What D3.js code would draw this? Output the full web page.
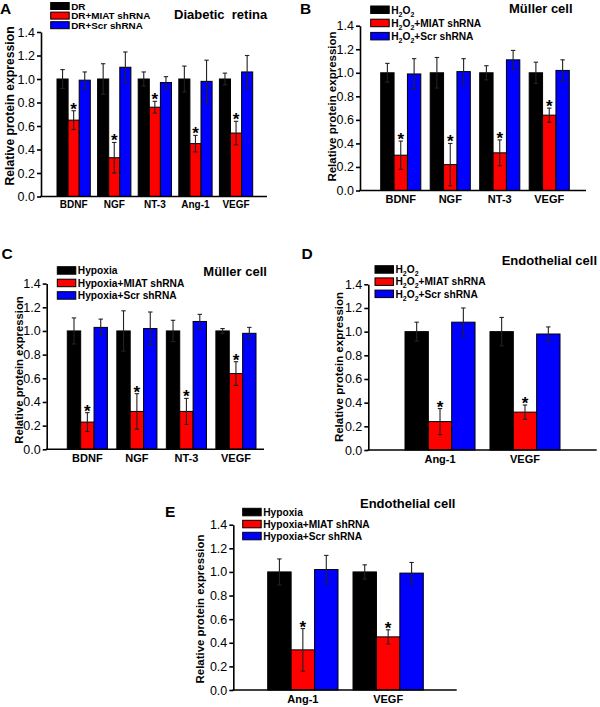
<!DOCTYPE html>
<html>
<head>
<meta charset="utf-8">
<script src="https://cdn.jsdelivr.net/npm/d3@7"></script>
<style>
  html, body { margin: 0; padding: 0; background: #fff; }
  svg { display: block; }
  text { font-family: Arial, "Liberation Sans", sans-serif; }
</style>
</head>
<body>
<svg id="chart" width="600" height="707"></svg>
<script>
// ---------- DATA ----------
const yTickValues = [0, 0.2, 0.4, 0.6, 0.8, 1.0, 1.2, 1.4];
const seriesColors = ["#000000", "#ff0000", "#0000ff"];

// Panel A: Diabetic retina
const titleA = "Diabetic  retina";
const legendA = ["DR", "DR+MIAT shRNA", "DR+Scr shRNA"];
const catsA = ["BDNF", "NGF", "NT-3", "Ang-1", "VEGF"];
const ctrlA = [1.00, 1.00, 1.00, 1.00, 1.00];
const ctrlErrA = [0.08, 0.13, 0.06, 0.11, 0.05];
const miatA = [0.65, 0.33, 0.76, 0.45, 0.54];
const miatErrA = [0.08, 0.13, 0.05, 0.07, 0.10];
const scrA = [0.99, 1.10, 0.97, 0.98, 1.06];
const scrErrA = [0.07, 0.13, 0.05, 0.18, 0.14];

// Panel B: Muller cell, H2O2
const titleB = "Müller cell";
const legendB = ["H2O2", "H2O2+MIAT shRNA", "H2O2+Scr shRNA"];
const catsB = ["BDNF", "NGF", "NT-3", "VEGF"];
const ctrlB = [1.00, 1.00, 1.00, 1.00];
const ctrlErrB = [0.08, 0.13, 0.06, 0.09];
const miatB = [0.30, 0.22, 0.32, 0.64];
const miatErrB = [0.12, 0.18, 0.11, 0.06];
const scrB = [0.99, 1.01, 1.11, 1.02];
const scrErrB = [0.13, 0.11, 0.08, 0.09];

// Panel C: Muller cell, Hypoxia
const titleC = "Müller cell";
const legendC = ["Hypoxia", "Hypoxia+MIAT shRNA", "Hypoxia+Scr shRNA"];
const catsC = ["BDNF", "NGF", "NT-3", "VEGF"];
const ctrlC = [1.00, 1.00, 1.00, 1.00];
const ctrlErrC = [0.11, 0.17, 0.09, 0.02];
const miatC = [0.23, 0.32, 0.32, 0.64];
const miatErrC = [0.08, 0.15, 0.11, 0.10];
const scrC = [1.03, 1.02, 1.08, 0.98];
const scrErrC = [0.07, 0.14, 0.06, 0.05];

// Panel D: Endothelial cell, H2O2
const titleD = "Endothelial cell";
const legendD = ["H2O2", "H2O2+MIAT shRNA", "H2O2+Scr shRNA"];
const catsD = ["Ang-1", "VEGF"];
const ctrlD = [1.00, 1.00];
const ctrlErrD = [0.08, 0.12];
const miatD = [0.24, 0.32];
const miatErrD = [0.11, 0.06];
const scrD = [1.08, 0.98];
const scrErrD = [0.12, 0.06];

// Panel E: Endothelial cell, Hypoxia
const titleE = "Endothelial cell";
const legendE = ["Hypoxia", "Hypoxia+MIAT shRNA", "Hypoxia+Scr shRNA"];
const catsE = ["Ang-1", "VEGF"];
const ctrlE = [1.00, 1.00];
const ctrlErrE = [0.11, 0.06];
const miatE = [0.34, 0.45];
const miatErrE = [0.18, 0.06];
const scrE = [1.02, 0.99];
const scrErrE = [0.12, 0.09];

// ---------- LAYOUT ----------
const panels = [
  { id: "A", title: titleA, legend: legendA, cats: catsA,
    vals: [ctrlA, miatA, scrA], errs: [ctrlErrA, miatErrA, scrErrA],
    labelPos: [0, 13.5], titlePos: [174, 19], axisX: 41, y0: 196.5, yTop: 32, xEnd: 267,
    group: [57, 252.7], pad: 0.18, legendPos: [50.7, 2.5], legendStep: 9.6, legendFont: 9.9, swH: 7,
    yLabel: [10, 106], yLabelSize: 12.2, catSize: 10, catDy: 12 },
  { id: "B", title: titleB, legend: legendB, cats: catsB,
    vals: [ctrlB, miatB, scrB], errs: [ctrlErrB, miatErrB, scrErrB],
    labelPos: [300, 14], titlePos: [509, 13], axisX: 360, y0: 190.5, yTop: 25.7, xEnd: 586,
    group: [380.7, 569.3], pad: 0.19, legendPos: [370.7, 6], legendStep: 13.2, legendFont: 10.2, swH: 7.5,
    yLabel: [332, 106.5], yLabelSize: 11.5, catSize: 11, catDy: 13 },
  { id: "C", title: titleC, legend: legendC, cats: catsC,
    vals: [ctrlC, miatC, scrC], errs: [ctrlErrC, miatErrC, scrErrC],
    labelPos: [1.5, 259.3], titlePos: [203.3, 276.4], axisX: 46.7, y0: 449.3, yTop: 283.6, xEnd: 264,
    group: [67.3, 256], pad: 0.19, legendPos: [57.3, 266.7], legendStep: 12.5, legendFont: 10.2, swH: 7.5,
    yLabel: [18.5, 370], yLabelSize: 11.3, catSize: 11, catDy: 13 },
  { id: "D", title: titleD, legend: legendD, cats: catsD,
    vals: [ctrlD, miatD, scrD], errs: [ctrlErrD, miatErrD, scrErrD],
    labelPos: [301.5, 259.3], titlePos: [501.7, 265.4], axisX: 368.3, y0: 450, yTop: 284.3, xEnd: 596.7,
    group: [405, 560], pad: 0.176, legendPos: [375, 265.7], legendStep: 12.2, legendFont: 10.2, swH: 7.5,
    yLabel: [338.5, 367], yLabelSize: 11.5, catSize: 11, catDy: 13 },
  { id: "E", title: titleE, legend: legendE, cats: catsE,
    vals: [ctrlE, miatE, scrE], errs: [ctrlErrE, miatErrE, scrErrE],
    labelPos: [165, 516.7], titlePos: [360, 508], axisX: 233.3, y0: 690, yTop: 524.7, xEnd: 456.7,
    group: [267.7, 423.3], pad: 0.176, legendPos: [242.7, 508.3], legendStep: 12, legendFont: 10.2, swH: 7.5,
    yLabel: [200, 609], yLabelSize: 11.4, catSize: 11, catDy: 13 }
];

const svg = d3.select("#chart");

function richText(sel, str) {
  // render "H2O2" with subscript 2s
  if (str.startsWith("H2O2")) {
    const rest = str.slice(4);
    sel.append("tspan").text("H");
    sel.append("tspan").text("2").attr("font-size", "7px").attr("dy", 3);
    sel.append("tspan").text("O").attr("dy", -3);
    sel.append("tspan").text("2").attr("font-size", "7px").attr("dy", 3);
    if (rest.length) sel.append("tspan").text(rest).attr("dy", -3);
  } else {
    sel.text(str);
  }
}

panels.forEach(p => {
  const g = svg.append("g");
  const y = d3.scaleLinear().domain([0, 1.4]).range([p.y0, p.yTop]);
  const x0 = d3.scaleBand().domain(p.cats).range(p.group).paddingInner(p.pad).paddingOuter(0);
  const x1 = d3.scaleBand().domain([0, 1, 2]).range([0, x0.bandwidth()]);

  // bars
  p.cats.forEach((c, ci) => {
    [0, 1, 2].forEach(si => {
      const v = p.vals[si][ci];
      const e = p.errs[si][ci];
      const bx = x0(c) + x1(si);
      const bw = x1.bandwidth();
      g.append("rect")
        .attr("x", bx).attr("y", y(v))
        .attr("width", bw).attr("height", y(0) - y(v))
        .attr("fill", seriesColors[si])
        .attr("stroke", "#000").attr("stroke-width", 1);
      const cx = bx + bw / 2;
      const capW = 2.2;
      const eb = g.append("g").attr("stroke", "#222").attr("stroke-width", 1.1);
      eb.append("line").attr("x1", cx).attr("x2", cx).attr("y1", y(v + e)).attr("y2", y(v - e));
      eb.append("line").attr("x1", cx - capW).attr("x2", cx + capW).attr("y1", y(v + e)).attr("y2", y(v + e));
      eb.append("line").attr("x1", cx - capW).attr("x2", cx + capW).attr("y1", y(v - e)).attr("y2", y(v - e));
      if (si === 1) {
        g.append("text")
          .attr("x", cx).attr("y", y(v + e) + 4)
          .attr("text-anchor", "middle")
          .attr("font-size", "17px").attr("font-weight", "bold")
          .text("*");
      }
    });
  });

  // y axis
  const yAxis = d3.axisLeft(y).tickValues(yTickValues).tickFormat(d3.format(".1f"))
    .tickSize(4).tickSizeOuter(0).tickPadding(2);
  const ya = g.append("g").attr("transform", `translate(${p.axisX},0)`).call(yAxis);
  ya.selectAll("path, line").attr("stroke", "#000").attr("stroke-width", 1.6);
  ya.selectAll("text").attr("font-size", "12.5px").attr("fill", "#000")
    .attr("font-family", "Arial, 'Liberation Sans', sans-serif");

  // x axis line
  g.append("line").attr("x1", p.axisX - 0.8).attr("x2", p.xEnd)
    .attr("y1", y(0)).attr("y2", y(0))
    .attr("stroke", "#000").attr("stroke-width", 1.6);

  // category labels
  const xAxis = d3.axisBottom(x0).tickSize(0).tickPadding(p.catDy - 8);
  const xa = g.append("g").attr("transform", `translate(0,${y(0)})`).call(xAxis);
  xa.select(".domain").remove();
  xa.selectAll("text").attr("font-size", p.catSize + "px").attr("font-weight", "bold")
    .attr("fill", "#000").attr("font-family", "Arial, 'Liberation Sans', sans-serif");

  // y label
  g.append("text")
    .attr("transform", `translate(${p.yLabel[0]},${p.yLabel[1]}) rotate(-90)`)
    .attr("text-anchor", "middle").attr("dominant-baseline", "central")
    .attr("font-size", p.yLabelSize + "px").attr("font-weight", "bold")
    .text("Relative protein expression");

  // legend
  p.legend.forEach((lab, i) => {
    const ly = p.legendPos[1] + i * p.legendStep;
    g.append("rect").attr("x", p.legendPos[0]).attr("y", ly)
      .attr("width", 18.5).attr("height", p.swH)
      .attr("fill", seriesColors[i]).attr("stroke", "#000").attr("stroke-width", 1);
    const t = g.append("text").attr("x", p.legendPos[0] + 20.5).attr("y", ly + p.swH)
      .attr("font-size", p.legendFont + "px").attr("font-weight", "bold");
    richText(t, lab);
  });

  // title
  g.append("text").attr("x", p.titlePos[0]).attr("y", p.titlePos[1])
    .attr("font-size", "13px").attr("font-weight", "bold").style("white-space", "pre")
    .text(p.title);

  // panel letter
  g.append("text").attr("x", p.labelPos[0]).attr("y", p.labelPos[1])
    .attr("font-size", "15.5px").attr("font-weight", "bold").text(p.id);
});
</script>
</body>
</html>
